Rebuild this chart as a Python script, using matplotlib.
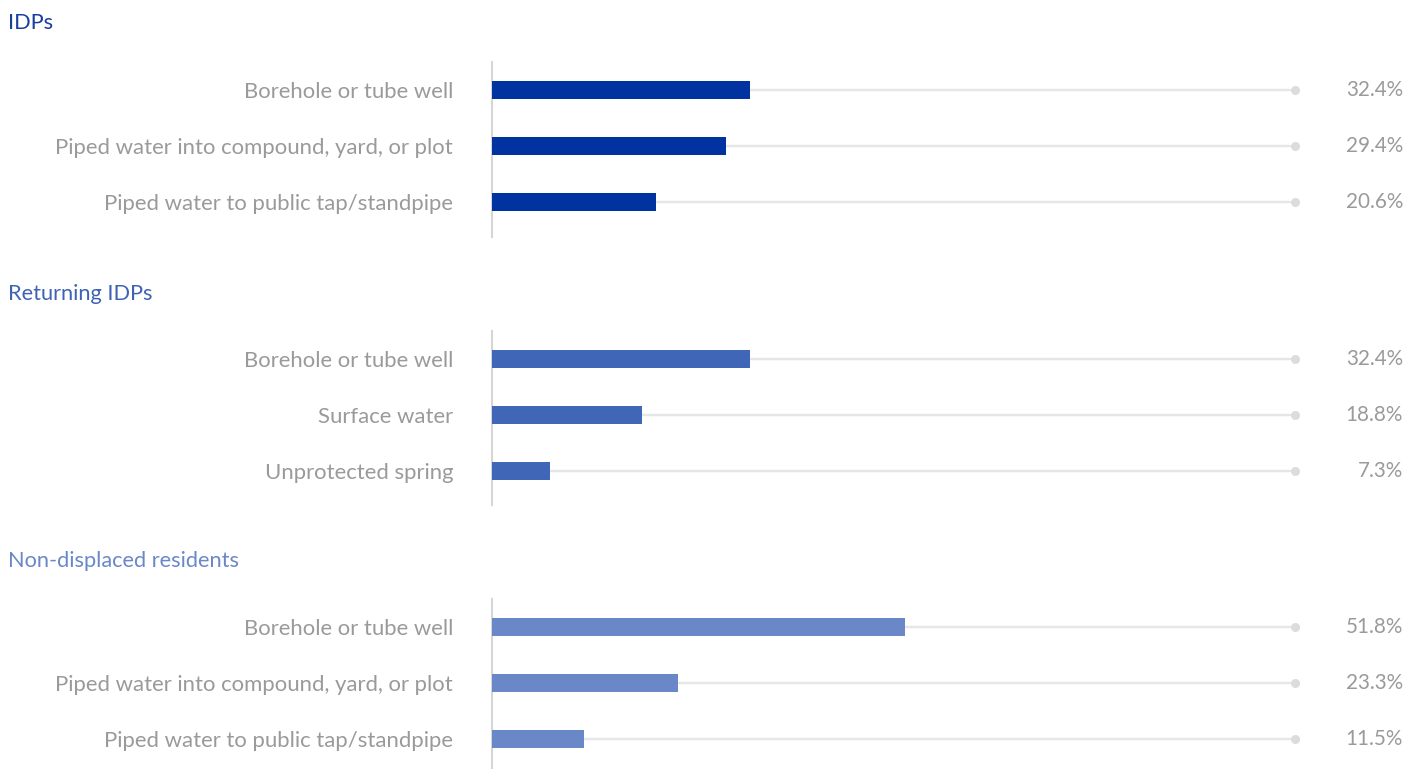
import matplotlib
matplotlib.use("Agg")
import matplotlib.pyplot as plt
from matplotlib.transforms import blended_transform_factory, ScaledTranslation

groups = ["IDPs", "Returning IDPs", "Non-displaced residents"]
categories = [
    ["Borehole or tube well", "Piped water into compound, yard, or plot", "Piped water to public tap/standpipe"],
    ["Borehole or tube well", "Surface water", "Unprotected spring"],
    ["Borehole or tube well", "Piped water into compound, yard, or plot", "Piped water to public tap/standpipe"],
]
values = [
    [32.4, 29.4, 20.6],
    [32.4, 18.8, 7.3],
    [51.8, 23.3, 11.5],
]
bar_colors = ["#0033A0", "#4066B8", "#6A87C8"]
title_colors = ["#1A3EA0", "#3F62B5", "#6A87C8"]

W, H = 1406, 769
fig = plt.figure(figsize=(W / 100, H / 100), dpi=100)
plt.rcParams['font.family'] = ['Lato', 'DejaVu Sans']

# panel pixel layout: (axis top, axis bottom, title y)
panels = [(62, 237, 23), (331, 505, 294), (599, 769, 561)]
x0_px, x100_px = 492, 1289
label_color = "#9A9A9A"
fs_lab = 15.9
fs_val = 14.9
fs_title = 15.7

for i, (top, bot, ty) in enumerate(panels):
    ax = fig.add_axes([x0_px / W, 1 - bot / H, (x100_px - x0_px) / W, (bot - top) / H])
    n = len(values[i])
    pos = list(range(n))
    unit = 56.0
    ax.set_ylim(-0.5 + (bot - top) / unit, -0.5)
    ax.set_xlim(0, 100)
    dot_tr = ax.transData + ScaledTranslation(6 / 100, 0, fig.dpi_scale_trans)
    # tracks
    for p in pos:
        ax.plot([0, 100], [p, p], color="#E6E6E6", lw=1.6, zorder=1, solid_capstyle="butt", clip_on=False)
        ax.plot([0, 100], [p, p], color="#E6E6E6", lw=1.6, zorder=1, solid_capstyle="butt",
                clip_on=False, transform=dot_tr)
        ax.plot([100], [p], "o", color="#DCDCDC", ms=6.5, zorder=2, clip_on=False, mec="none",
                transform=dot_tr)
    ax.barh(pos, values[i], height=0.32, color=bar_colors[i], zorder=3)
    for s in ["top", "right", "bottom"]:
        ax.spines[s].set_visible(False)
    ax.spines["left"].set_color("#D6D6D6")
    ax.spines["left"].set_linewidth(1.5)
    ax.set_xticks([])
    ax.set_yticks(pos)
    ax.set_yticklabels(categories[i], fontsize=fs_lab, color=label_color)
    ax.tick_params(axis="y", length=0, pad=28)
    trans = blended_transform_factory(fig.transFigure, ax.transData)
    for p, v in zip(pos, values[i]):
        ax.text(1403 / W, p, f"{v}%", transform=trans, ha="right", va="center",
                fontsize=fs_val, color=label_color)
    fig.text(8 / W, 1 - ty / H, groups[i], fontsize=fs_title, color=title_colors[i],
             ha="left", va="center")

fig.savefig("out.png", dpi=100, facecolor="white")
